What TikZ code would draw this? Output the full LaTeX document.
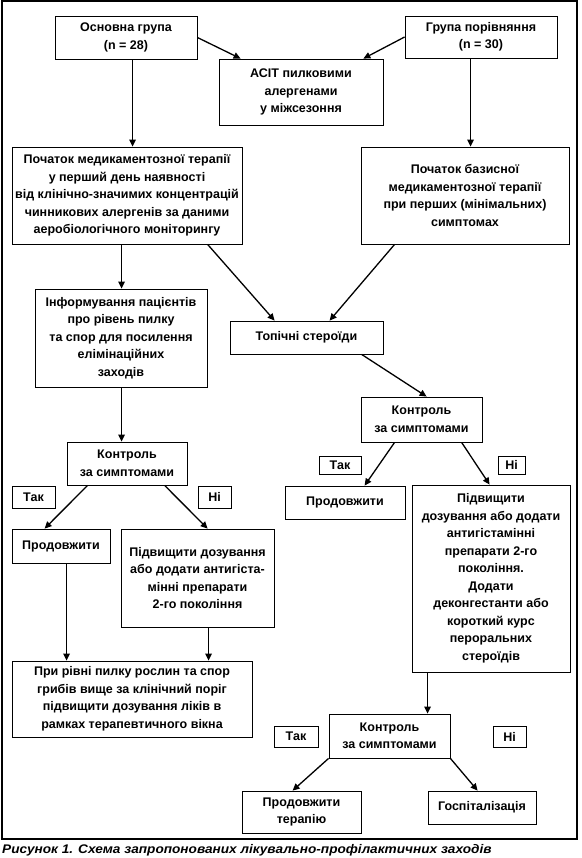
\documentclass[tikz,border=0pt]{standalone}
\usepackage{fontspec}
\setmainfont{Liberation Sans}
\newfontfamily\capfont[FakeStretch=1.09]{Liberation Sans}
\usetikzlibrary{arrows.meta,calc}
\tikzset{
  box/.style={draw, line width=0.8pt, inner sep=0pt, align=center, font=\fontsize{12.5}{17.5}\selectfont\bfseries},
  arr/.style={line width=1.3pt, -{Triangle[length=7pt,width=6.5pt]}},
}
\newcommand\bx[6]{\node[box, minimum width={#4-#2}, minimum height={#5-#3}] (#1) at ({(#2+#4)/2},{(#3+#5)/2}) {#6};}
\begin{document}
\begin{tikzpicture}[x=1pt,y=-1pt]
\useasboundingbox (0,0) rectangle (581,858);
\draw[line width=1.2pt] (2,1) rectangle (577,839);
\bx{osn}{55}{16}{197}{59}{Основна група\\(n = 28)}
\bx{asit}{219}{59}{383}{125}{АСІТ пилковими\\алергенами\\у міжсезоння}
\bx{grp}{405}{16}{557}{58}{Група порівняння\\(n = 30)}
\bx{poch}{12}{147}{242}{244}{Початок медикаментозної терапії\\у перший день наявності\\від клінічно-значимих концентрацій\\чинникових алергенів за даними\\аеробіологічного моніторингу}
\bx{baz}{361}{147}{569}{244}{Початок базисної\\медикаментозної терапії\\при перших (мінімальних)\\симптомах}
\bx{inf}{35}{289}{207}{387}{Інформування пацієнтів\\про рівень пилку\\та спор для посилення\\елімінаційних\\заходів}
\bx{top}{230}{321}{383}{354}{Топічні стероїди}
\bx{kR}{361}{397}{482}{442}{Контроль\\за симптомами}
\bx{kL}{67}{442}{187}{485}{Контроль\\за симптомами}
\bx{takL}{12}{486}{55}{508}{Так}
\bx{niL}{198}{486}{231}{508}{Ні}
\bx{prodL}{12}{529}{110}{563}{Продовжити}
\bx{pidL}{121}{529}{274}{627}{Підвищити дозування\\або додати антигіста-\\мінні препарати\\2-го покоління}
\bx{takR}{319}{456}{361}{474}{Так}
\bx{niR}{498}{456}{525}{474}{Ні}
\bx{prodR}{285}{486}{405}{519}{Продовжити}
\bx{pidR}{412}{485}{570}{672}{Підвищити\\дозування або додати\\антигістамінні\\препарати 2-го\\покоління.\\Додати\\деконгестанти або\\короткий курс\\пероральних\\стероїдів}
\bx{pri}{12}{661}{252}{737}{При рівні пилку рослин та спор\\грибів вище за клінічний поріг\\підвищити дозування ліків в\\рамках терапевтичного вікна}
\bx{kB}{329}{714}{450}{758}{Контроль\\за симптомами}
\bx{takB}{274}{726}{318}{747}{Так}
\bx{niB}{493}{726}{526}{747}{Ні}
\bx{prodT}{242}{791}{361}{833}{Продовжити\\терапію}
\bx{hosp}{428}{791}{536}{824}{Госпіталізація}
\draw[arr] (osn.east) -- ($(asit.north west)+(22,0)$);
\draw[arr] (grp.west) -- ($(asit.north east)+(-20,0)$);
\draw[arr] ($(osn.south west)+(78,0)$) -- ($(poch.north west)+(121,0)$);
\draw[arr] ($(grp.south west)+(66,0)$) -- ($(baz.north west)+(110,0)$);
\draw[arr] ($(poch.south west)+(110,0)$) -- ($(inf.north west)+(87,0)$);
\draw[arr] ($(poch.south west)+(196,0)$) -- ($(top.north west)+(45,0)$);
\draw[arr] ($(baz.south west)+(34,0)$) -- ($(top.north west)+(100,0)$);
\draw[arr] ($(top.south west)+(132,0)$) -- ($(kR.north west)+(66,0)$);
\draw[arr] ($(inf.south west)+(87,0)$) -- ($(kL.north west)+(55,0)$);
\draw[arr] ($(kL.south west)+(21,0)$) -- ($(prodL.north west)+(33,0)$);
\draw[arr] ($(kL.south west)+(98,0)$) -- ($(pidL.north west)+(87,0)$);
\draw[arr] ($(prodL.south west)+(55,0)$) -- ($(pri.north west)+(55,0)$);
\draw[arr] ($(pidL.south west)+(88,0)$) -- ($(pri.north west)+(197,0)$);
\draw[arr] ($(kR.south west)+(34,0)$) -- ($(prodR.north west)+(80,0)$);
\draw[arr] ($(kR.south west)+(101,0)$) -- ($(pidR.north west)+(78,0)$);
\draw[arr] ($(pidR.south west)+(16,0)$) -- ($(kB.north west)+(99,0)$);
\draw[arr] (kB.south west) -- ($(prodT.north west)+(51,0)$);
\draw[arr] (kB.south east) -- ($(hosp.north west)+(50,0)$);
\node[anchor=base west, inner sep=0pt, font=\capfont\fontsize{12.5}{15}\selectfont\bfseries\itshape] (cap) at (2,853) {Рисунок 1. Схема запропонованих лікувально-профілактичних заходів};
\end{tikzpicture}
\end{document}
